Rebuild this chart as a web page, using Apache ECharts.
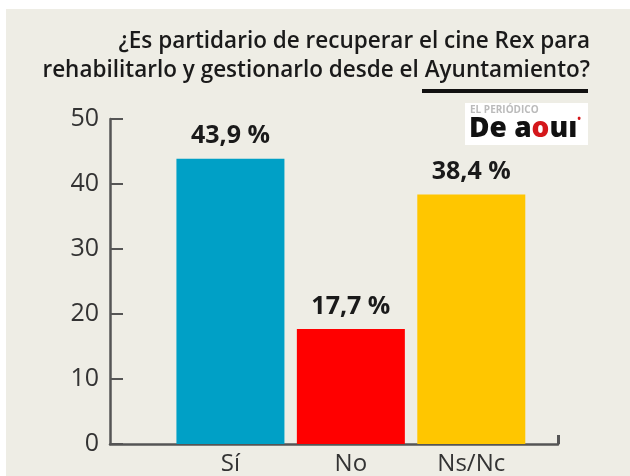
<!DOCTYPE html>
<html>
<head>
<meta charset="utf-8">
<script src="https://cdn.jsdelivr.net/npm/echarts@6/dist/echarts.min.js"></script>
<style>html,body{margin:0;padding:0;background:#fff}#c{width:630px;height:476px}</style>
</head>
<body>
<div id="c"></div>
<script>
const categories = ['Sí', 'No', 'Ns/Nc'];
const values = [43.9, 17.7, 38.4];
const colors = ['#00a0c6', '#ff0000', '#ffc600'];
const yTicks = [0, 10, 20, 30, 40, 50];
const titleLines = ['¿Es partidario de recuperar el cine Rex para', 'rehabilitarlo y gestionarlo desde el Ayuntamiento?'];

const positions = categories.map((c, i) => i + 1);
const XMAX = 3.72;
const axisFont = '"Open Sans", sans-serif';

const chart = echarts.init(document.getElementById('c'), null, {renderer: 'canvas'});
chart.setOption({
  backgroundColor: '#ffffff',
  animation: false,
  grid: {left: 110, right: 72, top: 119, bottom: 28, containLabel: false},
  xAxis: {
    type: 'value', min: 0, max: XMAX, interval: 1,
    splitLine: {show: false},
    axisLine: {show: true, lineStyle: {color: '#555', width: 2.5}},
    axisTick: {show: true, inside: true, length: 9, customValues: [XMAX], lineStyle: {color: '#555', width: 3}},
    axisLabel: {
      customValues: positions,
      formatter: v => categories[Math.round(v) - 1] || '',
      color: '#333', fontSize: 24, fontFamily: axisFont, margin: 8
    }
  },
  yAxis: {
    type: 'value', min: yTicks[0], max: yTicks[yTicks.length - 1], interval: 10,
    splitLine: {show: false},
    axisLine: {show: true, lineStyle: {color: '#555', width: 2.5}},
    axisTick: {show: true, inside: true, length: 13, lineStyle: {color: '#555', width: 2}},
    axisLabel: {color: '#333', fontSize: 25, fontFamily: axisFont, margin: 11}
  },
  series: [{
    type: 'bar',
    barWidth: 108,
    data: values.map((v, i) => ({value: [positions[i], v], itemStyle: {color: colors[i]}})),
    label: {
      show: true, position: 'top', distance: 10,
      formatter: p => p.value[1].toFixed(1).replace('.', ',') + ' %',
      fontSize: 25, fontWeight: 'bold', color: '#1a1a1a', fontFamily: '"Open Sans", sans-serif'
    }
  }],
  graphic: [
    {type: 'rect', z: -10, silent: true, shape: {x: 6, y: 9, width: 630, height: 476}, style: {fill: '#eeede5'}},
    {type: 'text', z: 10, style: {text: titleLines.join('\n'), x: 590, y: 27, align: 'right', verticalAlign: 'top',
      font: '600 22.5px "Open Sans", sans-serif', lineHeight: 29, fill: '#1a1a1a'}},
    {type: 'rect', z: 10, shape: {x: 422, y: 89, width: 166, height: 4}, style: {fill: '#111'}},
    {type: 'rect', z: 10, shape: {x: 465, y: 103, width: 123, height: 42}, style: {fill: '#ffffff'}},
    {type: 'text', z: 11, style: {text: 'EL PERIÓDICO', x: 470, y: 105, font: 'bold 10px "Open Sans", sans-serif', fill: '#bbbbbb'}},
    {type: 'text', z: 11, style: {
      text: '{k|De a}{r|o}{k|uı}{d|•}', x: 469, y: 114,
      rich: {
        k: {font: '900 28px "Open Sans", sans-serif', fill: '#111', lineHeight: 30},
        r: {font: '900 28px "Open Sans", sans-serif', fill: '#d4171b', lineHeight: 30},
        d: {font: 'bold 10px "Open Sans", sans-serif', fill: '#d4171b', verticalAlign: 'top', lineHeight: 30}
      }
    }}
  ]
});
</script>
</body>
</html>
